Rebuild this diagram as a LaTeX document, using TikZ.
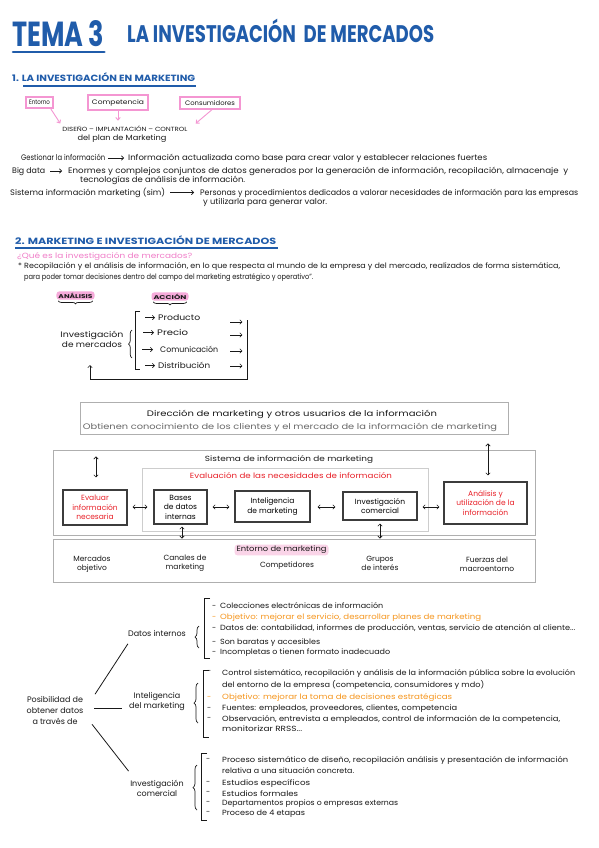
\documentclass[tikz,border=0pt]{standalone}
\usepackage{fontspec}
\setmainfont{Poppins}
\usepackage{graphicx}
\usetikzlibrary{arrows.meta,decorations.pathreplacing,calc}
\definecolor{tblue}{RGB}{32,92,170}
\definecolor{pinkb}{RGB}{244,150,210}
\definecolor{pinkt}{RGB}{240,125,200}
\definecolor{pinkh}{RGB}{246,170,218}
\definecolor{pinkl}{RGB}{250,212,232}
\definecolor{redt}{RGB}{232,32,40}
\definecolor{oranget}{RGB}{246,150,30}
\definecolor{grayt}{RGB}{105,105,105}
\definecolor{boxg}{RGB}{175,175,175}
\definecolor{boxl}{RGB}{205,205,205}
\definecolor{ink}{RGB}{25,25,25}
\newcommand{\fw}[2]{\resizebox{#1pt}{\height}{#2}}
\tikzset{
 txt/.style={inner sep=0pt, anchor=mid west, text=ink, font=\fontsize{7.5}{9}\selectfont},
 ctr/.style={inner sep=0pt, anchor=center, align=center, text=ink, font=\fontsize{7.5}{9.5}\selectfont},
 arr/.style={draw=ink, line width=0.6pt, -{Straight Barb[length=2.2pt,width=4.4pt]}},
 darr/.style={draw=ink, line width=0.6pt, {Straight Barb[length=2.2pt,width=4.4pt]}-{Straight Barb[length=2.2pt,width=4.4pt]}},
 parr/.style={draw=pinkb, line width=0.9pt, -{Straight Barb[length=2.5pt,width=4.5pt]}},
 pbox/.style={draw=pinkb, line width=1.3pt, inner sep=0pt, text=ink, font=\fontsize{6.5}{7}\selectfont},
 ibox/.style={draw=ink!85, line width=1.1pt, inner sep=0pt, align=center, font=\fontsize{7.5}{9.5}\selectfont},
 gbox/.style={draw=boxg, line width=0.9pt, inner sep=0pt},
 hl/.style={fill=pinkh, rounded corners=3pt, inner xsep=2pt, inner ysep=1.5pt, text=ink},
 bkt/.style={draw=ink, line width=0.7pt},
 brc/.style={draw=ink, line width=0.7pt, decorate, decoration={brace, amplitude=4pt}},
 tline/.style={draw=ink, line width=0.8pt},
 dsh/.style={inner sep=0pt, anchor=mid west, text=ink, font=\fontsize{7.5}{9}\selectfont},
}
\begin{document}
\begin{tikzpicture}[x=1pt,y=-1pt]
\useasboundingbox (0,0) rectangle (599,848);
\fill[white] (0,0) rectangle (599,848);

% ---------- title ----------
\node[anchor=base west, inner sep=0pt, text=tblue, font=\bfseries\fontsize{30}{30}\selectfont] (tema) at (12,47) {\resizebox{92pt}{26pt}{TEMA 3}};
\draw[tblue, line width=2.6pt, line cap=round] ($(tema.base west)+(1,5)$) -- ($(tema.base east)+(0,5)$);
\node[anchor=base west, inner sep=0pt, text=tblue, font=\bfseries\fontsize{24}{24}\selectfont] (titulo) at (127,43) {\resizebox{307pt}{\height}{LA INVESTIGACIÓN\ \ DE MERCADOS}};

% ---------- section 1 ----------
\node[anchor=base west, inner sep=0pt, text=tblue, font=\bfseries\fontsize{9}{9}\selectfont] (h1) at (12,82) {\resizebox{183pt}{\height}{1. LA INVESTIGACIÓN EN MARKETING}};
\draw[tblue, line width=1.3pt] ($(h1.base west)+(11,4)$) -- ($(h1.base east)+(1,4)$);

\node[pbox, minimum width=27, minimum height=11] (entorno) at (39.5,102.5) {\fw{21}{Entorno}};
\node[pbox, minimum width=60, minimum height=15] (compet) at (118,102.5) {\fw{52}{Competencia}};
\node[pbox, minimum width=60, minimum height=12] (consum) at (210,103) {\fw{50}{Consumidores}};
\node[ctr, font=\fontsize{6}{7}\selectfont] (diseno) at (125,128.5) {\fw{125}{DISEÑO – IMPLANTACIÓN – CONTROL}};
\node[ctr] (delplan) at (122,138.5) {\fw{89}{del plan de Marketing}};
\draw[parr] ($(entorno.south east)+(-3,0)$) -- ($(diseno.north west)+(-2,-2)$);
\draw[parr] (compet.south) -- ($(compet.south)+(0,10)$);
\draw[parr] ($(consum.south)+(2,0)$) -- ($(diseno.north east)+(8,-2)$);

\node[txt, font=\fontsize{8}{9}\selectfont] (gest) at (21,158) {\fw{84}{Gestionar la información}};
\node[txt, font=\fontsize{8}{9}\selectfont] (gesti) at (128,158) {\fw{359}{Información actualizada como base para crear valor y establecer relaciones fuertes}};
\draw[arr, shorten <=3pt, shorten >=4pt] (gest.mid east) -- (gesti.mid west);

\node[txt, font=\fontsize{8}{9}\selectfont] (big) at (12,171) {\fw{33}{Big data}};
\node[txt, font=\fontsize{8}{9}\selectfont] (bigt) at (68,171) {\fw{500}{Enormes y complejos conjuntos de datos generados por la generación de información, recopilación, almacenaje\ \ y}};
\node[txt, font=\fontsize{8}{9}\selectfont] (bigt2) at (80,179.5) {\fw{165}{tecnologías de análisis de información.}};
\draw[arr, shorten <=5pt, shorten >=6pt] (big.mid east) -- (bigt.mid west);

\node[txt, font=\fontsize{8}{9}\selectfont] (sim) at (10,192.5) {\fw{155}{Sistema información marketing (sim)}};
\node[txt, font=\fontsize{8}{9}\selectfont] (simt) at (200,192.5) {\fw{378}{Personas y procedimientos dedicados a valorar necesidades de información para las empresas}};
\node[txt, font=\fontsize{8}{9}\selectfont] (simt2) at (203,201.5) {\fw{124}{y utilizarla para generar valor.}};
\draw[arr, shorten <=5pt, shorten >=6pt] (sim.mid east) -- (simt.mid west);

% ---------- section 2 ----------
\node[anchor=base west, inner sep=0pt, text=tblue, font=\bfseries\fontsize{9}{9}\selectfont] (h2) at (15,244) {\resizebox{261pt}{\height}{2. MARKETING E INVESTIGACIÓN DE MERCADOS}};
\draw[tblue, line width=1.3pt] ($(h2.base west)+(0,4)$) -- ($(h2.base east)+(2,4)$);
\node[txt, text=pinkt] (quees) at (17,256) {\fw{175}{¿Qué es la investigación de mercados?}};
\node[txt] (def1) at (18,266) {\fw{542}{* Recopilación y el análisis de información, en lo que respecta al mundo de la empresa y del mercado, realizados de forma sistemática,}};
\node[txt] (def2) at (24,276.5) {\fw{289}{para poder tomar decisiones dentro del campo del marketing estratégico y operativo”.}};

\node[hl, font=\bfseries\fontsize{5.5}{6}\selectfont] (anal) at (75.5,295.5) {\fw{34}{ANÁLISIS}};
\node[hl, font=\bfseries\fontsize{5.5}{6}\selectfont] (accion) at (170,296.5) {\fw{33}{ACCIÓN}};
\draw[brc, decoration={brace, amplitude=3pt}] ($(anal.south east)+(-2,1)$) -- ($(anal.south west)+(2,1)$);
\draw[brc, decoration={brace, amplitude=3pt}] ($(accion.south east)+(-2,1)$) -- ($(accion.south west)+(2,1)$);

\node[ctr, font=\fontsize{8}{10}\selectfont] (invm) at (92,339) {\fw{63}{Investigación}\\\fw{60}{de mercados}};
\draw[brc, decoration={brace, amplitude=3.5pt}] (132,358) -- (132,330);
\draw[bkt] (140,311) -- (135,311) -- (135,369) -- (140,369);

\node[txt, font=\fontsize{8}{9}\selectfont] (prod) at (158,318) {\fw{42}{Producto}};
\node[txt, font=\fontsize{8}{9}\selectfont] (prec) at (157,333) {\fw{31}{Precio}};
\node[txt, font=\fontsize{8}{9}\selectfont] (comu) at (160,350) {\fw{58}{Comunicación}};
\node[txt, font=\fontsize{8}{9}\selectfont] (dist) at (158,366) {\fw{52}{Distribución}};
\draw[arr] ($(prod.mid west)+(-13,-0.5)$) -- ($(prod.mid west)+(-3,-0.5)$);
\draw[arr] ($(prec.mid west)+(-14,-0.5)$) -- ($(prec.mid west)+(-3,-0.5)$);
\draw[arr] ($(comu.mid west)+(-18,-0.5)$) -- ($(comu.mid west)+(-7,-0.5)$);
\draw[arr] ($(dist.mid west)+(-13,-0.5)$) -- ($(dist.mid west)+(-3,-0.5)$);
\draw[arr] ($(prod.mid east)+(30,4)$) -- ($(prod.mid east)+(42,4)$);
\draw[arr] ($(prec.mid east)+(42,2)$) -- ($(prec.mid east)+(54,2)$);
\draw[arr] ($(comu.mid east)+(12,1)$) -- ($(comu.mid east)+(24,1)$);
\draw[arr] ($(dist.mid east)+(20,0)$) -- ($(dist.mid east)+(32,0)$);
\coordinate (lp1) at (247,320);
\coordinate (lp2) at (247,379);
\coordinate (lp3) at (90,379);
\draw[arr] (lp1) -- (lp2) -- (lp3) -- ($(lp3)+(0,-14)$);

% ---------- middle diagram ----------
\node[gbox, minimum width=428, minimum height=32] (dir) at (294,418) {};
\node[ctr, font=\fontsize{8}{9}\selectfont] (dir1) at (292,414.5) {\fw{290}{Dirección de marketing y otros usuarios de la información}};
\node[ctr, text=grayt, font=\fontsize{8}{9}\selectfont] (dir2) at (290,427) {\fw{414}{Obtienen conocimiento de los clientes y el mercado de la información de marketing}};

\node[gbox, minimum width=482, minimum height=85] (sis) at (294,492.5) {};
\node[ctr] (sist) at (289,459.5) {\fw{168}{Sistema de información de marketing}};
\node[draw=boxl, line width=0.9pt, inner sep=0pt, minimum width=286, minimum height=63] (evalb) at (285,499.5) {};
\node[ctr, text=redt] (evalt) at (291,475.5) {\fw{202}{Evaluación de las necesidades de información}};

\node[ibox, text=redt, minimum width=64, minimum height=35] (evaluar) at (95,507.5) {Evaluar\\información\\necesaria};
\node[ibox, minimum width=53, minimum height=34] (bases) at (180.5,507) {Bases\\de datos\\internas};
\node[ibox, minimum width=75, minimum height=31] (intelb) at (272.5,506.5) {Inteligencia\\de marketing};
\node[ibox, minimum width=74, minimum height=28] (investb) at (380,506) {Investigación\\comercial};
\node[ibox, text=redt, minimum width=83, minimum height=42] (analisis) at (485.5,503) {Análisis y\\utilización de la\\información};

\coordinate (hy) at (0,507);
\draw[darr, shorten <=5pt, shorten >=6pt] (evaluar.east |- hy) -- (bases.west |- hy);
\draw[darr, shorten <=5pt, shorten >=5pt] (bases.east |- hy) -- (intelb.west |- hy);
\draw[darr, shorten <=7pt, shorten >=7pt] (intelb.east |- hy) -- (investb.west |- hy);
\draw[darr, shorten <=5pt, shorten >=4pt] (investb.east |- hy) -- (analisis.west |- hy);
\draw[darr] ($(evaluar.north)+(1,-33)$) -- ($(evaluar.north)+(1,-12)$);
\draw[darr] ($(analisis.north)+(2.5,-38)$) -- ($(analisis.north)+(2.5,-6)$);

\node[gbox, minimum width=482, minimum height=43] (ent) at (294,560.5) {};
\coordinate (b1) at ($(bases.south)+(1.5,2)$);
\coordinate (b2) at ($(investb.south)+(0,3)$);
\draw[darr] (b1) -- (b1 |- ent.north);
\draw[darr] (b2) -- (b2 |- ent.north);
\node[hl, fill=pinkl, font=\fontsize{7.5}{9}\selectfont] (entt) at (281.5,550) {\fw{90}{Entorno de marketing}};
\node[ctr, font=\fontsize{7.5}{8.8}\selectfont] (e1) at (92,564) {Mercados\\objetivo};
\node[ctr, font=\fontsize{7.5}{8.8}\selectfont] (e2) at (185,563.5) {Canales de\\marketing};
\node[ctr, font=\fontsize{7.5}{8.8}\selectfont] (e3) at (287,566) {Competidores};
\node[ctr, font=\fontsize{7.5}{8.8}\selectfont] (e4) at (380,563) {Grupos\\de interés};
\node[ctr, font=\fontsize{7.5}{8.8}\selectfont] (e5) at (487,564.5) {Fuerzas del\\macroentorno};

% ---------- bottom tree ----------
\node[ctr, font=\fontsize{8}{11}\selectfont] (posib) at (55,710) {Posibilidad de\\obtener datos\\a través de};
\node[ctr, font=\fontsize{8}{10}\selectfont] (datos) at (157,633) {Datos internos};
\node[ctr, font=\fontsize{8}{10}\selectfont] (intel) at (157,702) {Inteligencia\\del marketing};
\node[ctr, font=\fontsize{8}{10}\selectfont] (invest) at (157,788) {Investigación\\comercial};
\draw[tline] ($(posib.north east)+(11.5,-1.5)$) -- ($(datos.south west)+(0,7.5)$);
\draw[tline] ($(posib.east)+(10.5,-2)$) -- ($(intel.west)+(-7.5,6)$);
\draw[tline] ($(posib.south east)+(8.5,0)$) -- ($(invest.north west)+(-1.5,-8.5)$);

\draw[brc] (199,648) -- (199,626);
\draw[bkt] (210,598) -- (204,598) -- (204,658) -- (210,658);
\draw[brc] (198,723) -- (198,683);
\draw[bkt] (209,670) -- (203,670) -- (203,737) -- (209,737);
\draw[brc] (197,810) -- (197,765);
\draw[bkt] (207,753) -- (201,753) -- (201,820) -- (207,820);

% datos internos
\node[dsh] (dd1) at (212,606) {-};
\node[txt] (d1) at (220,606) {\fw{163}{Colecciones electrónicas de información}};
\node[dsh, text=oranget] (dd2) at (212,616.5) {-};
\node[txt, text=oranget] (d2) at (220,616.5) {\fw{261}{Objetivo: mejorar el servicio, desarrollar planes de marketing}};
\node[dsh] (dd3) at (212,628) {-};
\node[txt] (d3) at (220,628) {\fw{355}{Datos de: contabilidad, informes de producción, ventas, servicio de atención al cliente...}};
\node[dsh] (dd4) at (212,641.5) {-};
\node[txt] (d4) at (220,641.5) {\fw{100}{Son baratas y accesibles}};
\node[dsh] (dd5) at (212,652) {-};
\node[txt] (d5) at (220,652) {\fw{170}{Incompletas o tienen formato inadecuado}};

% inteligencia
\node[dsh] (id1) at (207,671) {-};
\node[txt] (i1) at (222,673) {\fw{353}{Control sistemático, recopilación y análisis de la información pública sobre la evolución}};
\node[txt] (i1b) at (222,684.5) {\fw{262}{del entorno de la empresa (competencia, consumidores y mdo)}};
\node[dsh, text=oranget] (id2) at (207,696.5) {-};
\node[txt, text=oranget] (i2) at (222,697) {\fw{230}{Objetivo: mejorar la toma de decisiones estratégicas}};
\node[dsh] (id3) at (207,707.5) {-};
\node[txt] (i3) at (222,708) {\fw{235}{Fuentes: empleados, proveedores, clientes, competencia}};
\node[dsh] (id4) at (207,717.5) {-};
\node[txt] (i4) at (222,719) {\fw{338}{Observación, entrevista a empleados, control de información de la competencia,}};
\node[txt] (i4b) at (222,728.5) {\fw{80}{monitorizar RRSS...}};

% investigacion comercial
\node[dsh] (vd1) at (206,758.5) {-};
\node[txt] (v1) at (222,760) {\fw{346}{Proceso sistemático de diseño, recopilación análisis y presentación de información}};
\node[txt] (v1b) at (222,770.5) {\fw{132}{relativa a una situación concreta.}};
\node[dsh] (vd2) at (206,781.5) {-};
\node[txt] (v2) at (222,783) {\fw{88}{Estudios específicos}};
\node[dsh] (vd3) at (206,792) {-};
\node[txt] (v3) at (222,793.5) {\fw{76}{Estudios formales}};
\node[dsh] (vd4) at (206,801.5) {-};
\node[txt] (v4) at (222,802.5) {\fw{176}{Departamentos propios o empresas externas}};
\node[dsh] (vd5) at (206,812) {-};
\node[txt] (v5) at (222,813) {\fw{83}{Proceso de 4 etapas}};
\end{tikzpicture}
\end{document}
